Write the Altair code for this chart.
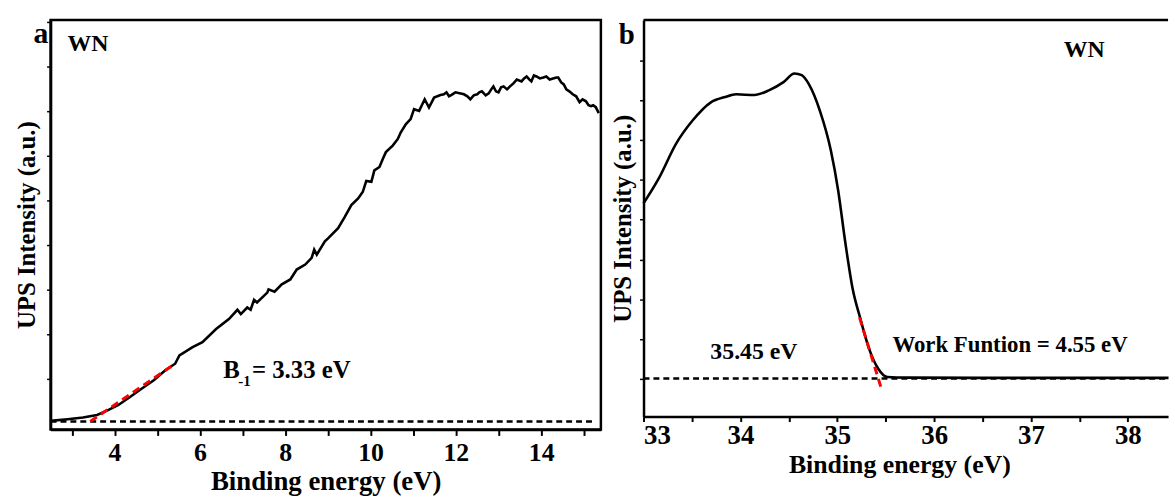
import altair as alt
import pandas as pd

# ---------------- data ----------------
# Panel a: valence-band UPS spectrum (binding energy in eV, intensity in a.u.)
a_energy = [2.5, 2.9, 3.26, 3.59, 3.86, 4.09, 4.37, 4.64, 4.92, 5.19, 5.42, 5.52, 5.83,
            6.06, 6.38, 6.68, 6.88, 6.96, 7.11, 7.19, 7.27, 7.34, 7.58, 7.61, 7.75, 7.92,
            8.12, 8.27, 8.47, 8.62, 8.68, 8.74, 8.93, 9.01, 9.24, 9.4, 9.55, 9.71, 9.82,
            9.9, 10.02, 10.09, 10.21, 10.29, 10.36, 10.52, 10.64, 10.71, 10.83, 10.94,
            11.02, 11.14, 11.27, 11.37, 11.49, 11.64, 11.72, 11.78, 11.84, 11.9, 11.99,
            12.19, 12.27, 12.34, 12.42, 12.5, 12.55, 12.61, 12.7, 12.77, 12.83, 12.88,
            12.94, 13.0, 13.06, 13.12, 13.2, 13.27, 13.35, 13.43, 13.54, 13.6, 13.66,
            13.72, 13.77, 13.83, 13.89, 13.97, 14.05, 14.12, 14.2, 14.28, 14.36, 14.4,
            14.47, 14.53, 14.59, 14.66, 14.74, 14.82, 14.9, 14.97, 15.05, 15.11, 15.17,
            15.22, 15.28, 15.35]
a_intensity = [8.7, 10.3, 12, 14.7, 19.7, 24.7, 33, 41.3, 49.7, 59.7, 66.3, 74.7, 83,
               88, 101.3, 111.3, 120.7, 116.3, 123, 120.7, 130.7, 128, 138, 141.3, 139, 146.3,
               151.3, 161.3, 166.3, 173, 181.3, 176.3, 189.7, 193, 203, 214.7, 226.3, 233, 239.7,
               250.7, 249.7, 261.3, 264.7, 273, 279.7, 286.3, 293, 299.7, 308, 313,
               323, 321.3, 333, 324.7, 334.7, 337.3, 338, 340, 336, 337.5, 340,
               338, 336, 333, 337, 338, 340, 341, 337, 339, 343, 346,
               341, 340, 345, 346, 343, 346, 349, 353, 351, 354, 356,
               353, 351, 357, 356, 354, 355, 356, 353, 354, 355, 355,
               350, 348, 343, 341, 338, 336, 330, 333, 331, 327, 326,
               327, 325, 319]

# Panel b: secondary-electron cut-off region
b_energy = [33.0, 33.166, 33.335, 33.504, 33.692, 33.843, 33.956, 34.144, 34.294, 34.445,
            34.558, 34.633, 34.708, 34.821, 34.934, 35.009, 35.084, 35.16, 35.235, 35.329,
            35.423, 35.517, 35.724, 36.5, 37.5, 38.42]
b_intensity = [215, 241.7, 275, 298.3, 316.7, 322.3, 325, 324.3, 329, 337.3,
               346, 344.3, 335, 308.3, 268.3, 228.3, 175, 128.3, 100, 68.3,
               48.3, 40, 39.3, 39, 39, 39]

# helper (baseline / tangent) lines
a_base_energy = [2.5, 15.25]
a_base_intensity = [8, 8]
a_fit_energy = [3.43, 5.42]
a_fit_intensity = [8, 66.3]
b_base_energy = [33.0, 38.42]
b_base_intensity = [38.3, 38.3]
b_fit_energy = [35.23, 35.46]
b_fit_intensity = [100, 26.7]

# y tick positions (unlabelled)
a_yticks = [51, 96, 141, 186, 231, 276, 321, 366, 411]
b_yticks = [38, 78, 118, 158, 199, 239, 279, 319, 359]
a_xticks = list(range(3, 16))
b_xticks = [33, 33.5, 34, 34.5, 35, 35.5, 36, 36.5, 37, 37.5, 38]

FONT = "Liberation Serif"
W_A, H_A = 555, 413
W_B, H_B = 529, 400

# ---------------- panel a ----------------
xa_scale = alt.Scale(domain=[2.5, 15.4], nice=False, zero=False)
ya_scale = alt.Scale(domain=[0, 413], nice=False, zero=False)

xa_axis = alt.Axis(title="Binding energy (eV)", values=a_xticks,
                   labelExpr="datum.value % 2 == 0 ? format(datum.value, 'd') : ''",
                   grid=False, domain=True, domainColor="black", domainWidth=2.5,
                   tickColor="black", tickWidth=2, tickSize=6, labelOverlap=False,
                   labelFont=FONT, labelFontWeight="bold", labelFontSize=26, labelColor="black",
                   labelPadding=4, titleFont=FONT, titleFontWeight="bold", titleFontSize=27,
                   titleColor="black", titlePadding=4)
ya_axis = alt.Axis(title="UPS Intensity (a.u.)", values=a_yticks, labels=False, grid=False,
                   domain=True, domainColor="black", domainWidth=2.5,
                   tickColor="black", tickWidth=1.5, tickSize=4,
                   titleFont=FONT, titleFontWeight="bold", titleFontSize=25,
                   titleColor="black", titlePadding=6)

df_a = pd.DataFrame({"E": a_energy, "I": a_intensity})
line_a = alt.Chart(df_a).mark_line(color="black", strokeWidth=2.6).encode(
    x=alt.X("E:Q", scale=xa_scale, axis=xa_axis),
    y=alt.Y("I:Q", scale=ya_scale, axis=ya_axis),
)
base_a = alt.Chart(pd.DataFrame({"E": a_base_energy, "I": a_base_intensity})).mark_line(
    color="black", strokeWidth=2.5, strokeDash=[6, 4]).encode(x="E:Q", y="I:Q")
fit_a = alt.Chart(pd.DataFrame({"E": a_fit_energy, "I": a_fit_intensity})).mark_line(
    color="red", strokeWidth=3, strokeDash=[8, 5]).encode(x="E:Q", y="I:Q")

ann_a = pd.DataFrame({
    "E": [2.1, 2.895, 6.545, 7.22],
    "I": [390, 382, 52, 52],
    "t": ["a", "WN", "B", "= 3.33 eV"],
    "s": [30, 24, 25, 25],
})
txt_a = alt.Chart(ann_a).mark_text(font=FONT, fontWeight="bold", color="black",
                                    align="left", baseline="alphabetic").encode(
    x="E:Q", y="I:Q", text="t:N", size=alt.Size("s:Q", scale=None, legend=None))
sub_a = alt.Chart(pd.DataFrame({"E": [6.9], "I": [44], "t": ["-1"]})).mark_text(
    font=FONT, fontWeight="bold", color="black", fontSize=15, align="left",
    baseline="alphabetic").encode(x="E:Q", y="I:Q", text="t:N")

panel_a = alt.layer(line_a, base_a, fit_a, txt_a, sub_a).properties(width=W_A, height=H_A)

# ---------------- panel b ----------------
xb_scale = alt.Scale(domain=[33, 38.415], nice=False, zero=False)
yb_scale = alt.Scale(domain=[0, 400], nice=False, zero=False)

xb_axis = alt.Axis(title="Binding energy (eV)", values=b_xticks,
                   labelExpr="datum.value % 1 == 0 ? format(datum.value, 'd') : ''",
                   grid=False, domain=True, domainColor="black", domainWidth=2.5,
                   tickColor="black", tickWidth=2, tickSize=5, labelOverlap=False,
                   labelFont=FONT, labelFontWeight="bold", labelFontSize=27, labelColor="black",
                   labelPadding=1, titleFont=FONT, titleFontWeight="bold", titleFontSize=26,
                   titleColor="black", titlePadding=3, titleX=258)
yb_axis = alt.Axis(title="UPS Intensity (a.u.)", values=b_yticks, labels=False, grid=False,
                   domain=True, domainColor="black", domainWidth=2.5,
                   tickColor="black", tickWidth=1.5, tickSize=4,
                   titleFont=FONT, titleFontWeight="bold", titleFontSize=25,
                   titleColor="black", titlePadding=3)

df_b = pd.DataFrame({"E": b_energy, "I": b_intensity})
line_b = alt.Chart(df_b).mark_line(color="black", strokeWidth=2.6, interpolate="monotone").encode(
    x=alt.X("E:Q", scale=xb_scale, axis=xb_axis),
    y=alt.Y("I:Q", scale=yb_scale, axis=yb_axis),
)
base_b = alt.Chart(pd.DataFrame({"E": b_base_energy, "I": b_base_intensity})).mark_line(
    color="black", strokeWidth=2.5, strokeDash=[6, 4]).encode(x="E:Q", y="I:Q")
fit_b = alt.Chart(pd.DataFrame({"E": b_fit_energy, "I": b_fit_intensity})).mark_line(
    color="red", strokeWidth=3, strokeDash=[8, 5]).encode(x="E:Q", y="I:Q")
top_b = alt.Chart(pd.DataFrame({"k": [0]})).mark_rule(color="black", strokeWidth=2.5).encode(
    x=alt.value(0), x2=alt.value(W_B), y=alt.value(0))

ann_b_c = pd.DataFrame({
    "E": [32.826, 37.55],
    "I": [376, 363],
    "t": ["b", "WN"],
    "s": [29, 24],
})
ann_b_l = pd.DataFrame({
    "E": [33.69, 35.569],
    "I": [58, 65],
    "t": ["35.45 eV", "Work Funtion = 4.55 eV"],
    "s": [24, 23],
})
txt_bc = alt.Chart(ann_b_c).mark_text(font=FONT, fontWeight="bold", color="black",
                                       align="center", baseline="alphabetic").encode(
    x="E:Q", y="I:Q", text="t:N", size=alt.Size("s:Q", scale=None, legend=None))
txt_bl = alt.Chart(ann_b_l).mark_text(font=FONT, fontWeight="bold", color="black",
                                       align="left", baseline="alphabetic").encode(
    x="E:Q", y="I:Q", text="t:N", size=alt.Size("s:Q", scale=None, legend=None))

panel_b = alt.layer(line_b, base_b, fit_b, top_b, txt_bc, txt_bl).properties(
    width=W_B, height=H_B, view=alt.ViewBackground(stroke="transparent"))

chart = alt.hconcat(panel_a, panel_b, spacing=4).properties(
    padding={"left": 14, "top": 15, "right": 0, "bottom": 0},
    background="white",
).configure_view(stroke="black", strokeWidth=2.5)

chart.save("out.html", embed_options={"renderer": "svg", "actions": False})
